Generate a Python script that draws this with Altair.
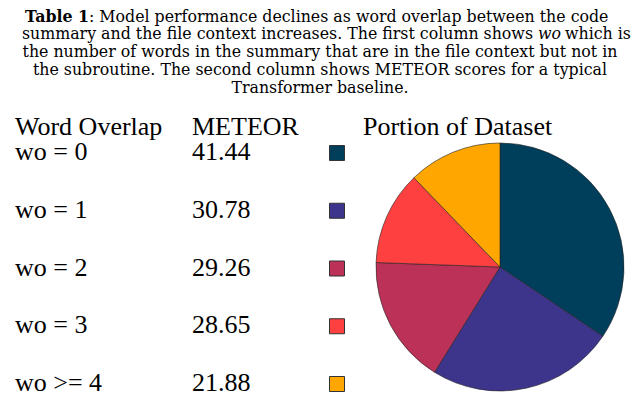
import altair as alt
import pandas as pd

# ---- data ----
labels = ["wo = 0", "wo = 1", "wo = 2", "wo = 3", "wo >= 4"]
meteor = [41.44, 30.78, 29.26, 28.65, 21.88]
share = [34.4, 24.4, 16.7, 12.2, 12.2]
colors = ["#003f5c", "#3d348b", "#bc3157", "#ff4040", "#ffa600"]

headers = ["Word Overlap", "METEOR", "Portion of Dataset"]

caption_bold = "Table 1"
caption_line1 = ": Model performance declines as word overlap between the code"
caption_line2a = "summary and the file context increases. The first column shows"
caption_italic = "wo"
caption_line2b = "which is"
caption_rest = [
    "the number of words in the summary that are in the file context but not in",
    "the subroutine. The second column shows METEOR scores for a typical",
    "Transformer baseline.",
]

FONT = "Liberation Serif"
CAP_FONT = "DejaVu Serif"
CAP = 15.8
TAB = 26

rows = pd.DataFrame({
    "idx": list(range(len(labels))),
    "label": labels,
    "meteor": meteor,
    "share": share,
})

color_scale = alt.Scale(domain=labels, range=colors)
row_y = alt.Y("idx:Q", scale=alt.Scale(domain=[0, 4], range=[145, 376]), axis=None)

base = alt.Chart(rows)

label_text = base.mark_text(font=FONT, fontSize=TAB, align="left", baseline="alphabetic", dy=7, color="black").encode(
    x=alt.value(7), y=row_y, text="label:N")
meteor_text = base.mark_text(font=FONT, fontSize=TAB, align="left", baseline="alphabetic", dy=7, color="black").encode(
    x=alt.value(184), y=row_y, text=alt.Text("meteor:Q", format=".2f"))
squares = base.mark_square(size=225, stroke="#333333", strokeWidth=1, opacity=1).encode(
    x=alt.value(329), y=row_y, color=alt.Color("label:N", scale=color_scale, legend=None))

pie = base.mark_arc(outerRadius=124, stroke="#222222", strokeWidth=0.6).encode(
    x=alt.value(492), y=alt.value(259),
    theta=alt.Theta("share:Q", stack=True),
    order=alt.Order("idx:Q"),
    color=alt.Color("label:N", scale=color_scale, legend=None))

hdr = pd.DataFrame({"h": headers, "i": [0, 1, 2]})
hdr_x = [7, 184, 355]
header_layers = [
    alt.Chart(hdr).transform_filter(alt.datum.i == i).mark_text(
        font=FONT, fontSize=TAB, align="left", baseline="alphabetic", color="black"
    ).encode(x=alt.value(hdr_x[i]), y=alt.value(127), text="h:N")
    for i in range(3)
]

cap = pd.DataFrame({"t": [caption_bold, caption_line1, caption_line2a, caption_italic, caption_line2b],
                    "k": [0, 1, 2, 3, 4]})
def cap_piece(k, x, y, align, **kw):
    return alt.Chart(cap).transform_filter(alt.datum.k == k).mark_text(
        font=CAP_FONT, fontSize=CAP, align=align, baseline="alphabetic", color="black", **kw
    ).encode(x=alt.value(x), y=alt.value(y), text="t:N")

cap_layers = [
    cap_piece(0, 81, 13.5, "right", fontWeight="bold"),
    cap_piece(1, 81, 13.5, "left"),
    cap_piece(2, 525, 31.3, "right"),
    cap_piece(3, 530, 31.3, "left", fontStyle="italic"),
    cap_piece(4, 557, 31.3, "left"),
]
rest = pd.DataFrame({"t": caption_rest, "line": [2, 3, 4]})
rest_layer = alt.Chart(rest).mark_text(font=CAP_FONT, fontSize=CAP, align="center", baseline="alphabetic", color="black").encode(
    x=alt.value(312),
    y=alt.Y("line:Q", scale=alt.Scale(domain=[0, 4], range=[13.5, 84.5]), axis=None),
    text="t:N")

chart = alt.layer(
    pie, squares, label_text, meteor_text, *header_layers, *cap_layers, rest_layer
).resolve_scale(y="independent").properties(
    width=624, height=385, padding=0, autosize="none"
).configure_view(stroke=None)

chart.save("out.html", embed_options={"renderer": "svg", "actions": False})
